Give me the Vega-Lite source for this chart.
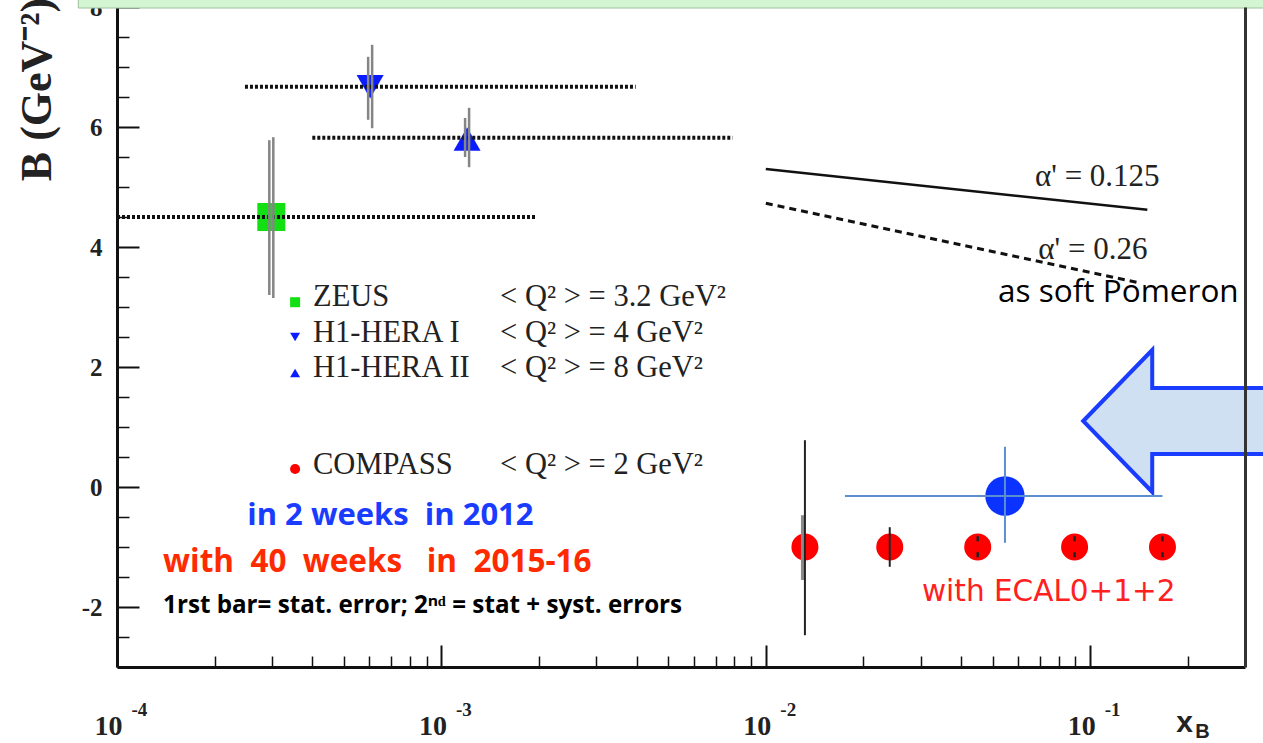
{
  "$schema": "https://vega.github.io/schema/vega-lite/v6.json",
  "width": 1128,
  "height": 660,
  "autosize": {"type": "none"},
  "padding": {"left": 117, "top": 7, "right": 18, "bottom": 76},
  "background": "white",
  "config": {"view": {"stroke": null}, "axis": {"grid": false}},
  "resolve": {"axis": {"x": "independent", "y": "independent"}},
  "layer": [
    {
      "data": {"values": [{"x1": 0.000076, "x2": 0.4, "y1": 7.983, "y2": 8.3}]},
      "mark": {"type": "rect", "fill": "#d4f5d1", "stroke": "#9fbf9f", "strokeWidth": 1, "clip": false},
      "encoding": {
        "x": {"field": "x1", "type": "quantitative", "scale": {"type": "log", "domain": [0.0001, 0.3], "nice": false}, "axis": null},
        "x2": {"field": "x2"},
        "y": {"field": "y1", "type": "quantitative", "scale": {"domain": [-3, 8], "nice": false, "zero": false}, "axis": null},
        "y2": {"field": "y2"}
      }
    },
    {
      "data": {"values": [{"x": 0.000299, "b": 4.5}]},
      "mark": {"type": "point", "shape": "square", "filled": true, "opacity": 1, "color": "#12e012", "size": 784},
      "encoding": {
        "x": {"field": "x", "type": "quantitative", "scale": {"type": "log", "domain": [0.0001, 0.3], "nice": false},
          "axis": {"orient": "bottom", "values": [0.0002, 0.0003, 0.0004, 0.0005, 0.0006, 0.0007, 0.0008, 0.0009, 0.002, 0.003, 0.004, 0.005, 0.006, 0.007, 0.008, 0.009, 0.02, 0.03, 0.04, 0.05, 0.06, 0.07, 0.08, 0.09, 0.2],
            "tickSize": -11, "tickWidth": 1.5, "tickColor": "#111", "labels": false, "domain": false, "title": null}},
        "y": {"field": "b", "type": "quantitative", "scale": {"domain": [-3, 8], "nice": false, "zero": false},
          "axis": {"orient": "left", "values": [-2.5, -1.5, -1, -0.5, 0.5, 1, 1.5, 2.5, 3, 3.5, 4.5, 5, 5.5, 6.5, 7, 7.5],
            "tickSize": -12, "tickWidth": 1.5, "tickColor": "#111", "labels": false, "domain": false, "title": null}}
      }
    },
    {
      "data": {"values": [{"x": 0.000603, "b": 6.67}]},
      "mark": {"type": "point", "shape": "triangle-down", "filled": true, "opacity": 1, "color": "#0a1cff", "size": 730},
      "encoding": {
        "x": {"field": "x", "type": "quantitative", "scale": {"type": "log", "domain": [0.0001, 0.3], "nice": false},
          "axis": {"orient": "bottom", "values": [0.0001, 0.001, 0.01, 0.1], "ticks": false, "tickSize": 0, "domain": false,
            "labelExpr": "'' + round(log(datum.value) / LN10)", "labelFont": "Liberation Serif", "labelFontWeight": "bold", "labelFontSize": 19, "labelColor": "#222",
            "labelAlign": "left", "labelOffset": 14, "labelBaseline": "middle", "labelPadding": 42, "labelFlush": false, "labelOverlap": false,
            "title": "B", "titleFont": "Liberation Sans", "titleFontWeight": "bold", "titleFontSize": 20, "titleColor": "#222",
            "titleX": 1085, "titleY": 64, "titleAlign": "center", "titleBaseline": "middle"}},
        "y": {"field": "b", "type": "quantitative", "scale": {"domain": [-3, 8], "nice": false, "zero": false},
          "axis": {"orient": "right", "ticks": false, "labels": false, "domainColor": "#333", "domainWidth": 3, "title": null, "zindex": 1}}
      }
    },
    {
      "data": {"values": [{"x": 0.0012, "b": 5.8}]},
      "mark": {"type": "point", "shape": "triangle-up", "filled": true, "opacity": 1, "color": "#0a1cff", "size": 730},
      "encoding": {
        "x": {"field": "x", "type": "quantitative", "scale": {"type": "log", "domain": [0.0001, 0.3], "nice": false}, "axis": null},
        "y": {"field": "b", "type": "quantitative", "scale": {"domain": [-3, 8], "nice": false, "zero": false}, "axis": null}
      }
    },
    {
      "data": {"values": [
        {"exp": "ZEUS", "xlo": 0.0001, "xhi": 0.00196, "b": 4.5},
        {"exp": "H1-HERA I", "xlo": 0.000248, "xhi": 0.00397, "b": 6.67},
        {"exp": "H1-HERA II", "xlo": 0.0004, "xhi": 0.0079, "b": 5.82}
      ]},
      "mark": {"type": "rule", "stroke": "#111", "strokeWidth": 4, "strokeDash": [3, 2]},
      "encoding": {
        "x": {"field": "xlo", "type": "quantitative", "scale": {"type": "log", "domain": [0.0001, 0.3], "nice": false},
          "axis": {"orient": "bottom", "values": [0.0001, 0.001, 0.01, 0.1], "tickSize": -22, "tickWidth": 2, "tickColor": "#111",
            "domainColor": "#111", "domainWidth": 3, "labelExpr": "'10'", "labelFont": "Liberation Serif", "labelFontWeight": "bold", "labelFontSize": 28,
            "labelColor": "#222", "labelBaseline": "middle", "labelAlign": "center", "labelOffset": -9, "labelPadding": 81, "labelFlush": false, "labelOverlap": false,
            "title": "x", "titleFont": "Liberation Sans", "titleFontWeight": "bold", "titleFontSize": 30, "titleColor": "#222",
            "titleX": 1067, "titleY": 55, "titleAlign": "center", "titleBaseline": "middle"}},
        "x2": {"field": "xhi"},
        "y": {"field": "b", "type": "quantitative", "scale": {"domain": [-3, 8], "nice": false, "zero": false},
          "axis": {"orient": "left", "values": [-2, 0, 2, 4, 6, 8], "tickSize": -22, "tickWidth": 2, "tickColor": "#111",
            "domainColor": "#111", "domainWidth": 3, "labelExpr": "datum.value < 0 ? '-' + abs(datum.value) : '' + datum.value",
            "labelFont": "Liberation Serif", "labelFontWeight": "bold", "labelFontSize": 25, "labelColor": "#222", "labelPadding": 37,
            "labelFlush": false, "labelOverlap": false,
            "title": "B (GeV⁻²)", "titleFont": "Liberation Serif", "titleFontWeight": "bold", "titleFontSize": 44, "titleColor": "#222",
            "titleAngle": -90, "titleX": -80, "titleY": 82, "titleAlign": "center", "titleBaseline": "middle"}}
      }
    },
    {
      "data": {"values": [
        {"x": 0.000299, "lo": 3.2, "hi": 5.78},
        {"x": 0.000603, "lo": 6.12, "hi": 7.17},
        {"x": 0.0012, "lo": 5.5, "hi": 6.15}
      ]},
      "mark": {"type": "rule", "stroke": "#858585", "strokeWidth": 2.5, "xOffset": -2},
      "encoding": {
        "x": {"field": "x", "type": "quantitative", "scale": {"type": "log", "domain": [0.0001, 0.3], "nice": false}, "axis": null},
        "y": {"field": "lo", "type": "quantitative", "scale": {"domain": [-3, 8], "nice": false, "zero": false}, "axis": null},
        "y2": {"field": "hi"}
      }
    },
    {
      "data": {"values": [
        {"x": 0.000299, "lo": 3.15, "hi": 5.83},
        {"x": 0.000603, "lo": 5.98, "hi": 7.37},
        {"x": 0.0012, "lo": 5.33, "hi": 6.32}
      ]},
      "mark": {"type": "rule", "stroke": "#858585", "strokeWidth": 2.5, "xOffset": 2},
      "encoding": {
        "x": {"field": "x", "type": "quantitative", "scale": {"type": "log", "domain": [0.0001, 0.3], "nice": false}, "axis": null},
        "y": {"field": "lo", "type": "quantitative", "scale": {"domain": [-3, 8], "nice": false, "zero": false}, "axis": null},
        "y2": {"field": "hi"}
      }
    },
    {
      "data": {"values": [{"x": 0.01, "b": 5.3}, {"x": 0.15, "b": 4.62}]},
      "mark": {"type": "line", "stroke": "#111", "strokeWidth": 2.5},
      "encoding": {
        "x": {"field": "x", "type": "quantitative", "scale": {"type": "log", "domain": [0.0001, 0.3], "nice": false}, "axis": null},
        "y": {"field": "b", "type": "quantitative", "scale": {"domain": [-3, 8], "nice": false, "zero": false}, "axis": null}
      }
    },
    {
      "data": {"values": [{"x": 0.01, "b": 4.73}, {"x": 0.1426, "b": 3.4}]},
      "mark": {"type": "line", "stroke": "#111", "strokeWidth": 3, "strokeDash": [7, 5]},
      "encoding": {
        "x": {"field": "x", "type": "quantitative", "scale": {"type": "log", "domain": [0.0001, 0.3], "nice": false}, "axis": null},
        "y": {"field": "b", "type": "quantitative", "scale": {"domain": [-3, 8], "nice": false, "zero": false}, "axis": null}
      }
    },
    {
      "data": {"values": [{"x": 0.0132, "b": -1}, {"x": 0.0241, "b": -1}, {"x": 0.045, "b": -1}, {"x": 0.0895, "b": -1}, {"x": 0.167, "b": -1}]},
      "mark": {"type": "point", "shape": "circle", "filled": true, "opacity": 1, "color": "#ff0000", "size": 730},
      "encoding": {
        "x": {"field": "x", "type": "quantitative", "scale": {"type": "log", "domain": [0.0001, 0.3], "nice": false}, "axis": null},
        "y": {"field": "b", "type": "quantitative", "scale": {"domain": [-3, 8], "nice": false, "zero": false}, "axis": null}
      }
    },
    {
      "data": {"values": [{"x": 0.0132, "lo": -1.55, "hi": -0.47}]},
      "mark": {"type": "rule", "stroke": "#8a8a8a", "strokeWidth": 4, "xOffset": -2},
      "encoding": {
        "x": {"field": "x", "type": "quantitative", "scale": {"type": "log", "domain": [0.0001, 0.3], "nice": false}, "axis": null},
        "y": {"field": "lo", "type": "quantitative", "scale": {"domain": [-3, 8], "nice": false, "zero": false}, "axis": null},
        "y2": {"field": "hi"}
      }
    },
    {
      "data": {"values": [{"x": 0.0132, "lo": -2.47, "hi": 0.78}, {"x": 0.0241, "lo": -1.33, "hi": -0.67}]},
      "mark": {"type": "rule", "stroke": "#222", "strokeWidth": 2},
      "encoding": {
        "x": {"field": "x", "type": "quantitative", "scale": {"type": "log", "domain": [0.0001, 0.3], "nice": false}, "axis": null},
        "y": {"field": "lo", "type": "quantitative", "scale": {"domain": [-3, 8], "nice": false, "zero": false}, "axis": null},
        "y2": {"field": "hi"}
      }
    },
    {
      "data": {"values": [{"x": 0.045, "lo": -1.18, "hi": -0.82}, {"x": 0.0895, "lo": -1.18, "hi": -0.82}, {"x": 0.167, "lo": -1.18, "hi": -0.82}]},
      "mark": {"type": "rule", "stroke": "#222", "strokeWidth": 2.5, "strokeDash": [5, 11]},
      "encoding": {
        "x": {"field": "x", "type": "quantitative", "scale": {"type": "log", "domain": [0.0001, 0.3], "nice": false}, "axis": null},
        "y": {"field": "hi", "type": "quantitative", "scale": {"domain": [-3, 8], "nice": false, "zero": false}, "axis": null},
        "y2": {"field": "lo"}
      }
    },
    {
      "data": {"values": [{"x": 0.1935, "b": 1.1}]},
      "mark": {"type": "point", "shape": "M -1 0 L -0.31 -0.71 L -0.31 -0.33 L 1 -0.33 L 1 0.33 L -0.31 0.33 L -0.31 0.71 Z",
        "filled": true, "opacity": 1, "fill": "#cfe0f2", "stroke": "#1a3cff", "strokeWidth": 4, "size": 40000, "clip": false},
      "encoding": {
        "x": {"field": "x", "type": "quantitative", "scale": {"type": "log", "domain": [0.0001, 0.3], "nice": false}, "axis": null},
        "y": {"field": "b", "type": "quantitative", "scale": {"domain": [-3, 8], "nice": false, "zero": false}, "axis": null}
      }
    },
    {
      "data": {"values": [{"x": 0.0546, "b": -0.15}]},
      "mark": {"type": "point", "shape": "circle", "filled": true, "opacity": 1, "color": "#0a33ff", "size": 1550},
      "encoding": {
        "x": {"field": "x", "type": "quantitative", "scale": {"type": "log", "domain": [0.0001, 0.3], "nice": false}, "axis": null},
        "y": {"field": "b", "type": "quantitative", "scale": {"domain": [-3, 8], "nice": false, "zero": false}, "axis": null}
      }
    },
    {
      "data": {"values": [{"xlo": 0.01754, "xhi": 0.167, "b": -0.15}]},
      "mark": {"type": "rule", "stroke": "#5b8fd0", "strokeWidth": 2},
      "encoding": {
        "x": {"field": "xlo", "type": "quantitative", "scale": {"type": "log", "domain": [0.0001, 0.3], "nice": false}, "axis": null},
        "x2": {"field": "xhi"},
        "y": {"field": "b", "type": "quantitative", "scale": {"domain": [-3, 8], "nice": false, "zero": false}, "axis": null}
      }
    },
    {
      "data": {"values": [{"x": 0.0546, "lo": -0.93, "hi": 0.67}]},
      "mark": {"type": "rule", "stroke": "#5b8fd0", "strokeWidth": 2},
      "encoding": {
        "x": {"field": "x", "type": "quantitative", "scale": {"type": "log", "domain": [0.0001, 0.3], "nice": false}, "axis": null},
        "y": {"field": "lo", "type": "quantitative", "scale": {"domain": [-3, 8], "nice": false, "zero": false}, "axis": null},
        "y2": {"field": "hi"}
      }
    },
    {
      "data": {"values": [{"x": 0.000354, "b": 3.08}]},
      "mark": {"type": "point", "shape": "square", "filled": true, "opacity": 1, "color": "#12e012", "size": 100},
      "encoding": {
        "x": {"field": "x", "type": "quantitative", "scale": {"type": "log", "domain": [0.0001, 0.3], "nice": false}, "axis": null},
        "y": {"field": "b", "type": "quantitative", "scale": {"domain": [-3, 8], "nice": false, "zero": false}, "axis": null}
      }
    },
    {
      "data": {"values": [{"x": 0.000354, "b": 2.5}]},
      "mark": {"type": "point", "shape": "triangle-down", "filled": true, "opacity": 1, "color": "#0a1cff", "size": 100},
      "encoding": {
        "x": {"field": "x", "type": "quantitative", "scale": {"type": "log", "domain": [0.0001, 0.3], "nice": false}, "axis": null},
        "y": {"field": "b", "type": "quantitative", "scale": {"domain": [-3, 8], "nice": false, "zero": false}, "axis": null}
      }
    },
    {
      "data": {"values": [{"x": 0.000354, "b": 1.9}]},
      "mark": {"type": "point", "shape": "triangle-up", "filled": true, "opacity": 1, "color": "#0a1cff", "size": 100},
      "encoding": {
        "x": {"field": "x", "type": "quantitative", "scale": {"type": "log", "domain": [0.0001, 0.3], "nice": false}, "axis": null},
        "y": {"field": "b", "type": "quantitative", "scale": {"domain": [-3, 8], "nice": false, "zero": false}, "axis": null}
      }
    },
    {
      "data": {"values": [{"x": 0.000354, "b": 0.3}]},
      "mark": {"type": "point", "shape": "circle", "filled": true, "opacity": 1, "color": "#ff0000", "size": 100},
      "encoding": {
        "x": {"field": "x", "type": "quantitative", "scale": {"type": "log", "domain": [0.0001, 0.3], "nice": false}, "axis": null},
        "y": {"field": "b", "type": "quantitative", "scale": {"domain": [-3, 8], "nice": false, "zero": false}, "axis": null}
      }
    },
    {
      "data": {"values": [
        {"x": 0.000402, "b": 3.17, "label": "ZEUS"},
        {"x": 0.000402, "b": 2.57, "label": "H1-HERA I"},
        {"x": 0.000402, "b": 1.98, "label": "H1-HERA II"},
        {"x": 0.000402, "b": 0.37, "label": "COMPASS"},
        {"x": 0.001517, "b": 3.17, "label": "< Q² > = 3.2 GeV²"},
        {"x": 0.001517, "b": 2.57, "label": "< Q² > = 4 GeV²"},
        {"x": 0.001517, "b": 1.98, "label": "< Q² > = 8 GeV²"},
        {"x": 0.001517, "b": 0.37, "label": "< Q² > = 2 GeV²"}
      ]},
      "mark": {"type": "text", "font": "Liberation Serif", "fontSize": 30.5, "color": "#222", "align": "left", "baseline": "middle"},
      "encoding": {
        "x": {"field": "x", "type": "quantitative", "scale": {"type": "log", "domain": [0.0001, 0.3], "nice": false}, "axis": null},
        "y": {"field": "b", "type": "quantitative", "scale": {"domain": [-3, 8], "nice": false, "zero": false}, "axis": null},
        "text": {"field": "label"}
      }
    },
    {
      "data": {"values": [
        {"x": 0.0676, "b": 5.17, "label": "α' = 0.125"},
        {"x": 0.0692, "b": 3.95, "label": "α' = 0.26"}
      ]},
      "mark": {"type": "text", "font": "Liberation Serif", "fontSize": 31, "color": "#222", "align": "left", "baseline": "middle"},
      "encoding": {
        "x": {"field": "x", "type": "quantitative", "scale": {"type": "log", "domain": [0.0001, 0.3], "nice": false}, "axis": null},
        "y": {"field": "b", "type": "quantitative", "scale": {"domain": [-3, 8], "nice": false, "zero": false}, "axis": null},
        "text": {"field": "label"}
      }
    },
    {
      "data": {"values": [{"x": 0.052, "b": 3.233, "label": "as soft Pomeron"}]},
      "mark": {"type": "text", "font": "Open Sans", "fontSize": 31.5, "color": "#000", "align": "left", "baseline": "middle"},
      "encoding": {
        "x": {"field": "x", "type": "quantitative", "scale": {"type": "log", "domain": [0.0001, 0.3], "nice": false}, "axis": null},
        "y": {"field": "b", "type": "quantitative", "scale": {"domain": [-3, 8], "nice": false, "zero": false}, "axis": null},
        "text": {"field": "label"}
      }
    },
    {
      "data": {"values": [{"x": 0.000252, "b": -0.483, "label": "in 2 weeks\u00a0 in 2012"}]},
      "mark": {"type": "text", "font": "Open Sans", "fontWeight": "bold", "fontSize": 31, "color": "#1a3cff", "align": "left", "baseline": "middle"},
      "encoding": {
        "x": {"field": "x", "type": "quantitative", "scale": {"type": "log", "domain": [0.0001, 0.3], "nice": false}, "axis": null},
        "y": {"field": "b", "type": "quantitative", "scale": {"domain": [-3, 8], "nice": false, "zero": false}, "axis": null},
        "text": {"field": "label"}
      }
    },
    {
      "data": {"values": [{"x": 0.0001387, "b": -1.27, "label": "with\u00a0 40\u00a0 weeks\u00a0\u00a0 in\u00a0 2015-16"}]},
      "mark": {"type": "text", "font": "Open Sans", "fontWeight": "bold", "fontSize": 31.5, "color": "#ff2a00", "align": "left", "baseline": "middle"},
      "encoding": {
        "x": {"field": "x", "type": "quantitative", "scale": {"type": "log", "domain": [0.0001, 0.3], "nice": false}, "axis": null},
        "y": {"field": "b", "type": "quantitative", "scale": {"domain": [-3, 8], "nice": false, "zero": false}, "axis": null},
        "text": {"field": "label"}
      }
    },
    {
      "data": {"values": [{"x": 0.0001387, "b": -1.98, "label": "1rst bar= stat. error; 2ⁿᵈ = stat + syst. errors"}]},
      "mark": {"type": "text", "font": "Open Sans", "fontWeight": "bold", "fontSize": 24.2, "color": "#000", "align": "left", "baseline": "middle"},
      "encoding": {
        "x": {"field": "x", "type": "quantitative", "scale": {"type": "log", "domain": [0.0001, 0.3], "nice": false}, "axis": null},
        "y": {"field": "b", "type": "quantitative", "scale": {"domain": [-3, 8], "nice": false, "zero": false}, "axis": null},
        "text": {"field": "label"}
      }
    },
    {
      "data": {"values": [{"x": 0.0303, "b": -1.75, "label": "with ECAL0+1+2"}]},
      "mark": {"type": "text", "font": "DejaVu Sans", "fontSize": 29.5, "color": "#ff2020", "align": "left", "baseline": "middle"},
      "encoding": {
        "x": {"field": "x", "type": "quantitative", "scale": {"type": "log", "domain": [0.0001, 0.3], "nice": false}, "axis": null},
        "y": {"field": "b", "type": "quantitative", "scale": {"domain": [-3, 8], "nice": false, "zero": false}, "axis": null},
        "text": {"field": "label"}
      }
    }
  ]
}
